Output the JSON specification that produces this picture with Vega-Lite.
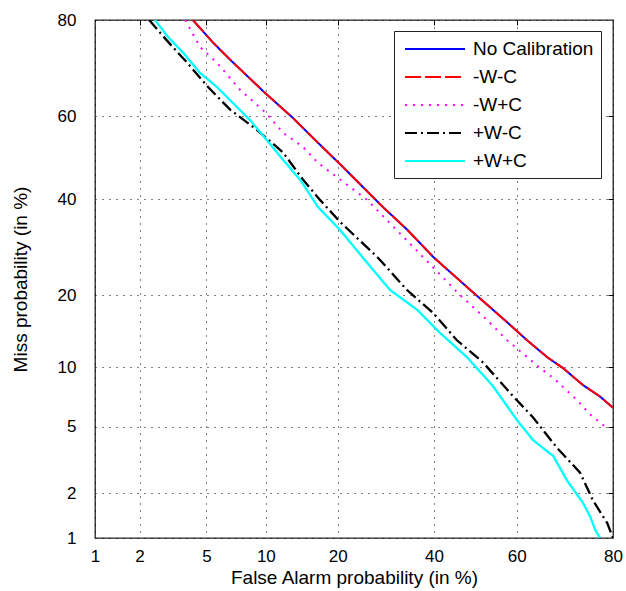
{
  "$schema": "https://vega.github.io/schema/vega-lite/v6.json",
  "width": 518,
  "height": 518,
  "autosize": {"type": "none"},
  "padding": {"left": 95, "top": 20, "right": 13, "bottom": 53},
  "background": "white",
  "config": {
    "font": "Liberation Sans",
    "view": {"stroke": "#222222", "strokeWidth": 1.3},
    "axis": {
      "labelFont": "Liberation Sans",
      "titleFont": "Liberation Sans",
      "labelColor": "black",
      "titleColor": "black",
      "titleFontWeight": "normal",
      "labelFlush": false,
      "labelOverlap": false
    },
    "legend": {
      "labelFont": "Liberation Sans",
      "labelColor": "black",
      "labelFontSize": 19,
      "labelLimit": 300,
      "symbolType": "M-0.7,0H5.3",
      "symbolSize": 400,
      "symbolStrokeWidth": 2,
      "labelOffset": 50,
      "rowPadding": 7,
      "padding": 7,
      "strokeColor": "#222222",
      "fillColor": "white"
    }
  },
  "datasets": {
    "det": [
      {"s": "No Calibration", "fa": 4.2, "miss": 80},
      {"s": "No Calibration", "fa": 5.4, "miss": 76},
      {"s": "No Calibration", "fa": 6.7, "miss": 72.5},
      {"s": "No Calibration", "fa": 9.9, "miss": 65.4},
      {"s": "No Calibration", "fa": 13.1, "miss": 59.8},
      {"s": "No Calibration", "fa": 16.8, "miss": 53.6},
      {"s": "No Calibration", "fa": 20.9, "miss": 47.7},
      {"s": "No Calibration", "fa": 28.6, "miss": 38.1},
      {"s": "No Calibration", "fa": 33.8, "miss": 33.0},
      {"s": "No Calibration", "fa": 39.8, "miss": 27.2},
      {"s": "No Calibration", "fa": 48.0, "miss": 21.4},
      {"s": "No Calibration", "fa": 52.9, "miss": 18.4},
      {"s": "No Calibration", "fa": 57.7, "miss": 15.7},
      {"s": "No Calibration", "fa": 62.4, "miss": 13.2},
      {"s": "No Calibration", "fa": 67.0, "miss": 11.1},
      {"s": "No Calibration", "fa": 70.4, "miss": 9.9},
      {"s": "No Calibration", "fa": 74.5, "miss": 8.2},
      {"s": "No Calibration", "fa": 77.7, "miss": 7.2},
      {"s": "No Calibration", "fa": 80, "miss": 6.3},

      {"s": "-W-C", "fa": 4.2, "miss": 80},
      {"s": "-W-C", "fa": 5.4, "miss": 76},
      {"s": "-W-C", "fa": 6.7, "miss": 72.5},
      {"s": "-W-C", "fa": 9.9, "miss": 65.4},
      {"s": "-W-C", "fa": 13.1, "miss": 59.8},
      {"s": "-W-C", "fa": 16.8, "miss": 53.6},
      {"s": "-W-C", "fa": 20.9, "miss": 47.7},
      {"s": "-W-C", "fa": 28.6, "miss": 38.1},
      {"s": "-W-C", "fa": 33.8, "miss": 33.0},
      {"s": "-W-C", "fa": 39.8, "miss": 27.2},
      {"s": "-W-C", "fa": 48.0, "miss": 21.4},
      {"s": "-W-C", "fa": 52.9, "miss": 18.4},
      {"s": "-W-C", "fa": 57.7, "miss": 15.7},
      {"s": "-W-C", "fa": 62.4, "miss": 13.2},
      {"s": "-W-C", "fa": 67.0, "miss": 11.1},
      {"s": "-W-C", "fa": 70.4, "miss": 9.9},
      {"s": "-W-C", "fa": 74.5, "miss": 8.2},
      {"s": "-W-C", "fa": 77.7, "miss": 7.2},
      {"s": "-W-C", "fa": 80, "miss": 6.3},

      {"s": "-W+C", "fa": 3.8, "miss": 80},
      {"s": "-W+C", "fa": 4.6, "miss": 75.1},
      {"s": "-W+C", "fa": 5.7, "miss": 71.9},
      {"s": "-W+C", "fa": 7.5, "miss": 66.1},
      {"s": "-W+C", "fa": 10.0, "miss": 60.8},
      {"s": "-W+C", "fa": 12.0, "miss": 56.0},
      {"s": "-W+C", "fa": 14.6, "miss": 52.6},
      {"s": "-W+C", "fa": 16.8, "miss": 48.7},
      {"s": "-W+C", "fa": 25.4, "miss": 39.8},
      {"s": "-W+C", "fa": 37.4, "miss": 27.2},
      {"s": "-W+C", "fa": 46.3, "miss": 20.0},
      {"s": "-W+C", "fa": 52.9, "miss": 16.0},
      {"s": "-W+C", "fa": 57.7, "miss": 13.2},
      {"s": "-W+C", "fa": 65.4, "miss": 9.9},
      {"s": "-W+C", "fa": 68.3, "miss": 8.9},
      {"s": "-W+C", "fa": 73.3, "miss": 6.9},
      {"s": "-W+C", "fa": 75.9, "miss": 5.8},
      {"s": "-W+C", "fa": 78.6, "miss": 5.0},

      {"s": "+W-C", "fa": 2.3, "miss": 80},
      {"s": "+W-C", "fa": 2.7, "miss": 77.7},
      {"s": "+W-C", "fa": 3.2, "miss": 75.1},
      {"s": "+W-C", "fa": 3.9, "miss": 71.9},
      {"s": "+W-C", "fa": 5.1, "miss": 66.7},
      {"s": "+W-C", "fa": 6.7, "miss": 61.5},
      {"s": "+W-C", "fa": 9.1, "miss": 56.7},
      {"s": "+W-C", "fa": 12.0, "miss": 51.2},
      {"s": "+W-C", "fa": 14.6, "miss": 44.6},
      {"s": "+W-C", "fa": 17.1, "miss": 39.8},
      {"s": "+W-C", "fa": 20.4, "miss": 34.7},
      {"s": "+W-C", "fa": 27.4, "miss": 27.2},
      {"s": "+W-C", "fa": 33.8, "miss": 20.9},
      {"s": "+W-C", "fa": 39.8, "miss": 17.1},
      {"s": "+W-C", "fa": 45.5, "miss": 13.2},
      {"s": "+W-C", "fa": 51.9, "miss": 10.5},
      {"s": "+W-C", "fa": 58.4, "miss": 7.5},
      {"s": "+W-C", "fa": 63.8, "miss": 5.6},
      {"s": "+W-C", "fa": 69.1, "miss": 3.8},
      {"s": "+W-C", "fa": 73.9, "miss": 2.7},
      {"s": "+W-C", "fa": 76.4, "miss": 1.8},
      {"s": "+W-C", "fa": 79.0, "miss": 1.27},
      {"s": "+W-C", "fa": 80, "miss": 1.0},

      {"s": "+W+C", "fa": 2.5, "miss": 80},
      {"s": "+W+C", "fa": 3.0, "miss": 77.0},
      {"s": "+W+C", "fa": 3.7, "miss": 73.9},
      {"s": "+W+C", "fa": 4.6, "miss": 69.8},
      {"s": "+W+C", "fa": 5.7, "miss": 66.7},
      {"s": "+W+C", "fa": 6.9, "miss": 63.1},
      {"s": "+W+C", "fa": 8.4, "miss": 59.1},
      {"s": "+W+C", "fa": 10.1, "miss": 54.3},
      {"s": "+W+C", "fa": 12.0, "miss": 49.4},
      {"s": "+W+C", "fa": 14.2, "miss": 44.6},
      {"s": "+W+C", "fa": 16.8, "miss": 38.1},
      {"s": "+W+C", "fa": 20.4, "miss": 32.9},
      {"s": "+W+C", "fa": 25.4, "miss": 26.0},
      {"s": "+W+C", "fa": 30.1, "miss": 20.9},
      {"s": "+W+C", "fa": 36.1, "miss": 17.6},
      {"s": "+W+C", "fa": 41.4, "miss": 14.2},
      {"s": "+W+C", "fa": 48.0, "miss": 11.1},
      {"s": "+W+C", "fa": 54.3, "miss": 8.1},
      {"s": "+W+C", "fa": 60.1, "miss": 5.4},
      {"s": "+W+C", "fa": 63.8, "miss": 4.2},
      {"s": "+W+C", "fa": 68.3, "miss": 3.4},
      {"s": "+W+C", "fa": 71.3, "miss": 2.4},
      {"s": "+W+C", "fa": 74.5, "miss": 1.73},
      {"s": "+W+C", "fa": 75.9, "miss": 1.4},
      {"s": "+W+C", "fa": 76.8, "miss": 1.14},
      {"s": "+W+C", "fa": 77.7, "miss": 1.0}
    ]
  },
  "data": {"name": "det"},
  "transform": [
    {"calculate": "quantileNormal(datum.fa / 100)", "as": "px"},
    {"calculate": "quantileNormal(datum.miss / 100)", "as": "py"}
  ],
  "encoding": {
    "x": {
      "field": "px",
      "type": "quantitative",
      "scale": {"domain": [-2.3263479, 0.8416212], "nice": false, "zero": false}
    },
    "y": {
      "field": "py",
      "type": "quantitative",
      "scale": {"domain": [-2.3263479, 0.8416212], "nice": false, "zero": false}
    }
  },
  "layer": [
    {
      "encoding": {
        "x": {
          "field": "px",
          "type": "quantitative",
          "axis": {
            "title": "False Alarm probability (in %)",
            "values": [-2.3263479, -2.0537489, -1.6448536, -1.2815516, -0.8416212, -0.2533471, 0.2533471, 0.8416212],
            "labelExpr": "'' + round(cumulativeNormal(datum.value) * 100)",
            "labelFontSize": 17,
            "labelPadding": 10,
            "titleFontSize": 19,
            "titlePadding": 4,
            "ticks": false,
            "domain": false,
            "grid": true,
            "gridColor": "black",
            "gridOpacity": 1,
            "gridWidth": 1,
            "gridDash": [1, 6]
          }
        },
        "y": {
          "field": "py",
          "type": "quantitative",
          "axis": {
            "title": "Miss probability (in %)",
            "values": [-2.3263479, -2.0537489, -1.6448536, -1.2815516, -0.8416212, -0.2533471, 0.2533471, 0.8416212],
            "labelExpr": "'' + round(cumulativeNormal(datum.value) * 100)",
            "labelFontSize": 17,
            "labelPadding": 19,
            "titleFontSize": 19,
            "titlePadding": 27,
            "ticks": false,
            "domain": false,
            "grid": true,
            "gridColor": "black",
            "gridOpacity": 1,
            "gridWidth": 1,
            "gridDash": [1, 6]
          }
        },
        "color": {
          "field": "s",
          "type": "nominal",
          "scale": {
            "domain": ["No Calibration", "-W-C", "-W+C", "+W-C", "+W+C"],
            "range": ["#0000ff", "#ff0000", "#ff00ff", "#000000", "#00ffff"]
          },
          "legend": {"orient": "none", "legendX": 299, "legendY": 11, "title": null}
        },
        "strokeDash": {
          "field": "s",
          "type": "nominal",
          "scale": {
            "domain": ["No Calibration", "-W-C", "-W+C", "+W-C", "+W+C"],
            "range": [[1, 0], [16, 4], [2, 6], [12, 4, 2, 4], [1, 0]]
          },
          "legend": {"orient": "none", "legendX": 299, "legendY": 11, "title": null}
        }
      },
      "layer": [
        {
          "transform": [{"filter": "datum.s === 'No Calibration'"}],
          "mark": {"type": "line", "strokeWidth": 2, "clip": true}
        },
        {
          "transform": [{"filter": "datum.s === '-W-C'"}],
          "mark": {"type": "line", "strokeWidth": 2, "clip": true}
        },
        {
          "transform": [{"filter": "datum.s === '-W+C'"}],
          "mark": {"type": "line", "strokeWidth": 2, "clip": true}
        },
        {
          "transform": [{"filter": "datum.s === '+W-C'"}],
          "mark": {"type": "line", "strokeWidth": 2.3, "clip": true}
        },
        {
          "transform": [{"filter": "datum.s === '+W+C'"}],
          "mark": {"type": "line", "strokeWidth": 2.3, "clip": true}
        }
      ]
    },
    {
      "mark": {"type": "point", "opacity": 0},
      "encoding": {
        "x": {
          "field": "px",
          "type": "quantitative",
          "axis": {
            "orient": "top",
            "title": null,
            "labels": false,
            "domain": false,
            "grid": false,
            "ticks": true,
            "tickSize": -5,
            "tickColor": "black",
            "tickWidth": 1,
            "values": [-2.0537489, -1.6448536, -1.2815516, -0.8416212, -0.2533471, 0.2533471]
          }
        },
        "y": {
          "field": "py",
          "type": "quantitative",
          "axis": {
            "orient": "right",
            "title": null,
            "labels": false,
            "domain": false,
            "grid": false,
            "ticks": true,
            "tickSize": -5,
            "tickColor": "black",
            "tickWidth": 1,
            "values": [-2.0537489, -1.6448536, -1.2815516, -0.8416212, -0.2533471, 0.2533471]
          }
        }
      }
    }
  ],
  "resolve": {"axis": {"x": "independent", "y": "independent"}}
}
